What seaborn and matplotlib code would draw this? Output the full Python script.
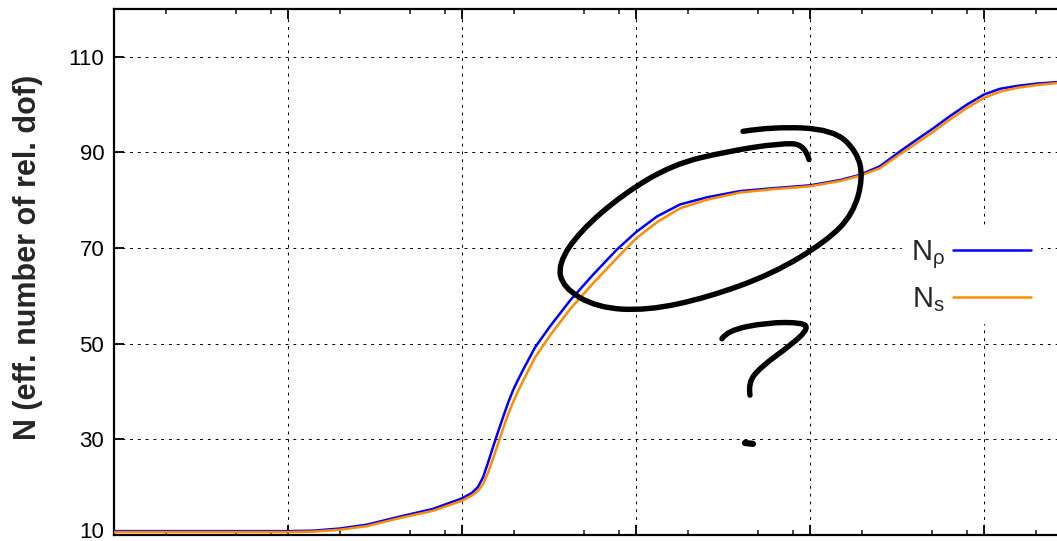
import numpy as np
import pandas as pd
import matplotlib
matplotlib.use("Agg")
import matplotlib.pyplot as plt
from matplotlib.path import Path
from matplotlib.patches import PathPatch
from matplotlib.ticker import LogLocator, NullFormatter, FixedLocator
from matplotlib.transforms import ScaledTranslation
import seaborn as sns

# ---- data: log10(T / GeV) and effective numbers of relativistic dof ----
log_T = [-3.0, -2.0, -1.851, -1.701, -1.546, -1.356, -1.167, -1.0, -0.943, -0.908,
         -0.879, -0.851, -0.822, -0.793, -0.764, -0.736, -0.707, -0.678, -0.649,
         -0.580, -0.494, -0.379, -0.247, -0.109, 0.0, 0.121, 0.253, 0.408, 0.598,
         0.787, 1.0, 1.172, 1.287, 1.402, 1.517, 1.615, 1.707, 1.805, 1.902, 2.0,
         2.092, 2.190, 2.305, 2.420, 2.609]
N_rho = [10.75, 10.75, 10.85, 11.3, 12.1, 13.8, 15.4, 17.6, 18.75, 20.0,
         22.0, 25.0, 28.3, 31.5, 34.6, 37.5, 40.2, 42.4, 44.5,
         49.2, 53.6, 59.0, 64.4, 69.7, 73.3, 76.6, 79.1, 80.6, 81.9,
         82.5, 83.1, 84.2, 85.3, 87.1, 90.2, 92.7, 95.0, 97.6, 100.0, 102.1,
         103.3, 103.9, 104.4, 104.7, 104.9]
N_s = [10.55, 10.55, 10.65, 11.05, 11.8, 13.5, 15.0, 17.1, 18.2, 19.2,
       20.6, 22.9, 25.9, 29.0, 32.2, 35.1, 37.7, 40.0, 42.2,
       47.1, 51.7, 57.2, 62.6, 67.9, 72.0, 75.4, 78.3, 80.1, 81.6,
       82.3, 82.9, 84.0, 85.1, 86.7, 89.6, 92.0, 94.3, 96.9, 99.3, 101.4,
       102.7, 103.5, 104.1, 104.5, 104.8]

y_ticks = [10, 30, 50, 70, 90, 110]
labels = [r"$\mathregular{N_{\rho}}$", r"$\mathregular{N_{s}}$"]
y_label = "N (eff. number of rel. dof)"

# hand-drawn annotation strokes (log10 T, N)
loop_x = [0.615, 0.787, 1.132, 1.270, 1.305, 1.247, 1.098, 0.787, 0.408, 0.063,
          -0.224, -0.420, -0.448, -0.322, -0.075, 0.213, 0.523, 0.828, 0.971, 0.994]
loop_y = [94.4, 95.4, 94.8, 90.2, 84.6, 77.1, 71.5, 64.6, 59.6, 56.9,
          57.5, 61.7, 66.7, 73.5, 81.25, 87.5, 90.2, 91.9, 91.7, 88.5]
qmark_x = [0.494, 0.523, 0.753, 0.960, 0.989, 0.902, 0.713, 0.644, 0.655]
qmark_y = [51.0, 52.7, 54.4, 54.4, 53.1, 50.0, 45.0, 41.7, 39.2]
dot_x = [0.626, 0.672]
dot_y = [29.2, 29.0]

sns.set_theme(style="ticks")
plt.rcParams["font.family"] = ["Liberation Sans", "DejaVu Sans"]
plt.rcParams["mathtext.fontset"] = "custom"
plt.rcParams["mathtext.rm"] = "Liberation Sans"
plt.rcParams["mathtext.it"] = "Liberation Sans"
plt.rcParams["mathtext.default"] = "regular"

W, H = 1057, 541
fig = plt.figure(figsize=(W / 100, H / 100), dpi=100)
fig.patch.set_facecolor("white")
ax = fig.add_axes([114 / W, (H - 534.7) / H, 974.4 / W, 525.7 / H])
ax.set_facecolor("white")

df = pd.DataFrame({"T": np.power(10.0, log_T), "N_rho": N_rho, "N_s": N_s})
sns.lineplot(data=df, x="T", y="N_rho", ax=ax, color="#0000ff", lw=1.8, zorder=3)
sns.lineplot(data=df, x="T", y="N_s", ax=ax, color="#ff8c00", lw=1.8, zorder=3)

ax.set_xscale("log")
ax.set_xlim(1e-3, 10 ** 2.6)
ax.set_ylim(10, 120)
ax.yaxis.set_major_locator(FixedLocator(y_ticks))
ax.xaxis.set_major_locator(LogLocator(base=10, numticks=20))
ax.xaxis.set_minor_locator(LogLocator(base=10, subs=(2.0, 5.0, 8.0), numticks=20))
ax.xaxis.set_major_formatter(NullFormatter())
ax.xaxis.set_minor_formatter(NullFormatter())
ax.set_xlabel("")
ax.set_ylabel("")

ax.tick_params(axis="both", which="major", direction="in", length=7, width=1.3,
               top=True, right=True, labelsize=16, pad=7, colors="black")
ax.tick_params(axis="both", which="minor", direction="in", length=3.5, width=1.2,
               top=True, right=True)
ax.tick_params(axis="y", which="minor", left=False, right=False)
for s in ax.spines.values():
    s.set_linewidth(1.6)
    s.set_color("black")

ax.grid(True, which="major", color="black", lw=0.7, linestyle=(0, (3, 5)), zorder=1)

# lift the lowest y tick label so that it stays inside the picture
t0 = ax.yaxis.get_major_ticks()[0]
t0.label1.set_transform(t0.label1.get_transform()
                        + ScaledTranslation(0, 3.5 / 72, fig.dpi_scale_trans))

fig.text(28 / W, 1 - 257 / H, y_label, rotation=90, ha="center", va="center",
         fontsize=22, fontweight="bold")

# legend (gnuplot-style key)
handles = ax.get_lines()[:2]
leg = ax.legend(handles, labels, loc="upper right",
                bbox_to_anchor=(1040 / W, 1 - 229 / H), bbox_transform=fig.transFigure,
                markerfirst=False, frameon=True, fontsize=21, handlelength=2.7,
                handletextpad=0.25, labelspacing=0.5, borderpad=0.3,
                borderaxespad=0, fancybox=False)
leg.get_frame().set_facecolor("white")
leg.get_frame().set_edgecolor("white")
leg.get_frame().set_alpha(1)
leg.set_zorder(5)


def smooth_path(xs, ys):
    lp = np.column_stack([xs, ys])
    verts = [lp[0]]
    codes = [Path.MOVETO]
    for i in range(1, len(lp) - 1):
        mid = (lp[i] + lp[i + 1]) / 2 if i < len(lp) - 2 else lp[i + 1]
        verts += [lp[i], mid]
        codes += [Path.CURVE3, Path.CURVE3]
    verts = np.array(verts)
    verts[:, 0] = np.power(10.0, verts[:, 0])
    return Path(verts, codes)


for xs, ys in [(loop_x, loop_y), (qmark_x, qmark_y), (dot_x, dot_y)]:
    if len(xs) > 2:
        patch = PathPatch(smooth_path(xs, ys), facecolor="none", edgecolor="black",
                          lw=3.9, capstyle="round", joinstyle="round",
                          transform=ax.transData, zorder=4)
        ax.add_patch(patch)
    else:
        ax.plot(np.power(10.0, xs), ys, color="black", lw=4.5,
                solid_capstyle="round", zorder=4)

fig.savefig("out.png", dpi=100)
